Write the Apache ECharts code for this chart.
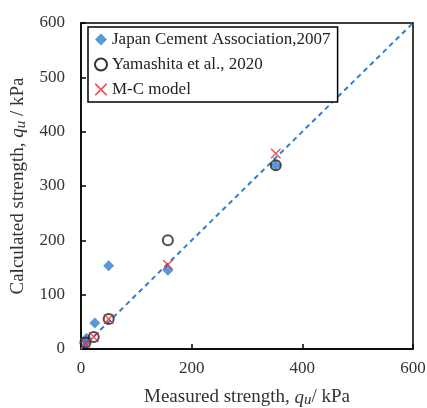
<!DOCTYPE html>
<html><head><meta charset="utf-8">
<script src="https://cdn.jsdelivr.net/npm/echarts@6/dist/echarts.min.js"></script>
<style>html,body{margin:0;padding:0;background:#fff}#c{width:427px;height:408px}</style>
</head><body><div id="c"></div>
<script>
const jcaData = [[8,12],[10,20],[25,48],[50,153],[157,145],[352,338]];
const yamaData = [[8,12],[23,22],[50,55],[157,200],[352,338]];
const mcData = [[8,10],[23,22],[50,55],[157,155],[352,360]];
const lineData = [[0,0],[600,600]];
const seriesNames = ['Japan Cement Association,2007','Yamashita et al., 2020','M-C model'];

const font = 'Liberation Serif, Times New Roman, serif';
const crossPath = 'path://M0,0L2,0L10,8L18,0L20,0L20,2L12,10L20,18L20,20L18,20L10,12L2,20L0,20L0,18L8,10L0,2Z';
const nameRich = {
  t:{fontFamily:font,fontSize:19,color:'#333'},
  q:{fontFamily:font,fontSize:19,fontStyle:'italic',color:'#333'},
  u:{fontFamily:font,fontSize:15,fontStyle:'italic',color:'#333',padding:[6,0,0,0]}
};
const chart = echarts.init(document.getElementById('c'));
chart.setOption({
  animation:false,
  textStyle:{fontFamily:font},
  grid:{left:81,right:14,top:23,bottom:59,show:true,borderColor:'#000',borderWidth:1.5,backgroundColor:'transparent',containLabel:false,outerBoundsMode:'none'},
  legend:{
    left:88, top:27, orient:'vertical', itemGap:8, itemWidth:12, itemHeight:12,
    backgroundColor:'#fff', borderColor:'#000', borderWidth:1.5, padding:[4,7,4,6],
    textStyle:{fontFamily:font,fontSize:17,color:'#222'},
    data:[
      {name:seriesNames[0], icon:'diamond', itemStyle:{color:'#2f7fd1'}},
      {name:seriesNames[1], icon:'circle', itemStyle:{color:'#fff',borderColor:'#000',borderWidth:2}},
      {name:seriesNames[2], icon:crossPath, itemStyle:{color:'#e8262b'}}
    ]
  },
  xAxis:{
    type:'value', min:0, max:600, interval:200,
    name:'{t|Measured strength, }{q|q}{u|u}{t|/ kPa}', nameLocation:'middle', nameGap:38,
    nameTextStyle:{rich:nameRich},
    axisLine:{show:true,lineStyle:{color:'#000',width:1.5}},
    axisTick:{show:true,inside:true,length:5,lineStyle:{color:'#000',width:1.5}},
    axisLabel:{fontFamily:font,fontSize:17,color:'#333',margin:11},
    splitLine:{show:false}
  },
  yAxis:{
    type:'value', min:0, max:600, interval:100,
    name:'{t|Calculated strength, }{q|q}{u|u}{t| / kPa}', nameLocation:'middle', nameGap:46,
    nameTextStyle:{rich:nameRich},
    axisLine:{show:true,lineStyle:{color:'#000',width:1.5}},
    axisTick:{show:true,inside:true,length:5,lineStyle:{color:'#000',width:1.5}},
    axisLabel:{fontFamily:font,fontSize:17,color:'#333',margin:16},
    splitLine:{show:false}
  },
  series:[
    {type:'line', data:lineData, showSymbol:false, silent:true, lineStyle:{color:'#2f7fd1',width:2,type:[5,4]}, z:1},
    {name:seriesNames[0], type:'scatter', data:jcaData, symbol:'diamond', symbolSize:11, itemStyle:{color:'#2f7fd1'}, z:2},
    {name:seriesNames[1], type:'scatter', data:yamaData, symbol:'circle', symbolSize:10, itemStyle:{color:'transparent',borderColor:'#222',borderWidth:2}, z:3},
    {name:seriesNames[2], type:'scatter', data:mcData, symbol:crossPath, symbolSize:10, itemStyle:{color:'#e8262b'}, z:4}
  ]
});
</script></body></html>
